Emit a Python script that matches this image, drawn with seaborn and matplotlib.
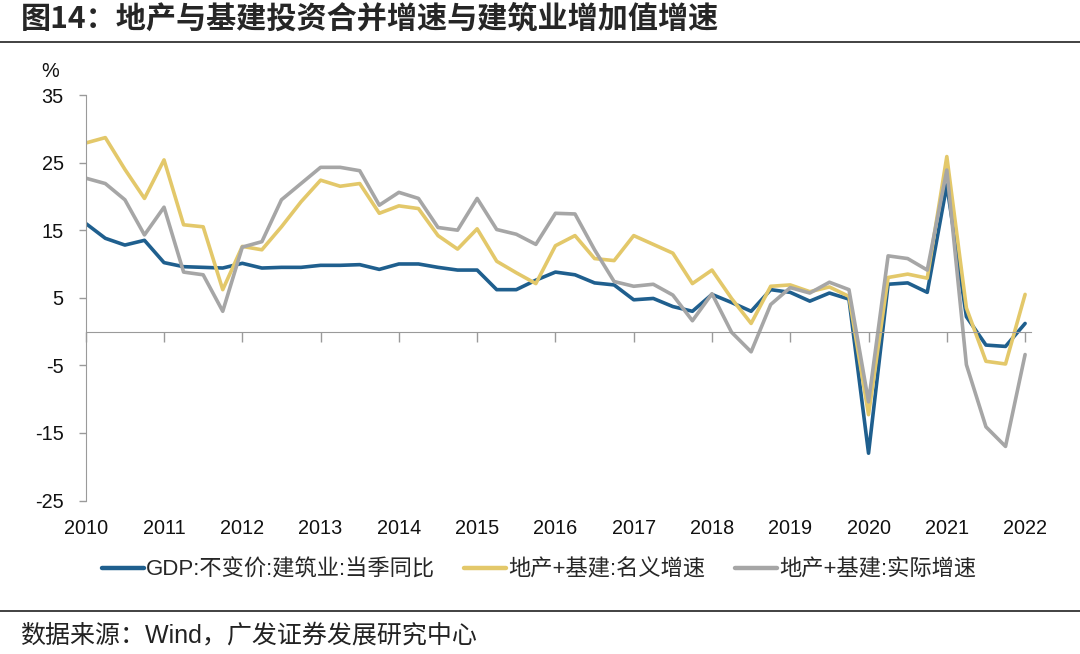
import numpy as np
import matplotlib

matplotlib.use('Agg')
import matplotlib.pyplot as plt
from matplotlib.lines import Line2D
import pandas as pd
import seaborn as sns

# quarterly data, 2010Q1 .. 2022Q1
quarters = [f'{y}Q{q}' for y in range(2010, 2023) for q in range(1, 5)][:49]

gdp_construction = [16.0, 13.8, 12.8, 13.5, 10.2, 9.6, 9.5, 9.4, 10.1, 9.4,
                    9.5, 9.5, 9.8, 9.8, 9.9, 9.2, 10.0, 10.0, 9.5, 9.1,
                    9.1, 6.2, 6.2, 7.6, 8.8, 8.4, 7.2, 6.9, 4.7, 4.9,
                    3.7, 3.0, 5.5, 4.3, 3.0, 6.2, 5.8, 4.5, 5.7, 4.8,
                    -18.0, 7.0, 7.2, 5.8, 21.7, 2.2, -2.0, -2.2, 1.2]
nominal = [27.9, 28.7, 24.0, 19.7, 25.4, 15.8, 15.5, 6.2, 12.6, 12.1,
           15.5, 19.2, 22.4, 21.5, 21.9, 17.5, 18.6, 18.2, 14.2, 12.2,
           15.2, 10.4, 8.7, 7.1, 12.7, 14.2, 10.8, 10.5, 14.2, 12.9,
           11.6, 7.1, 9.1, 4.9, 1.2, 6.7, 6.9, 5.9, 6.6, 5.2,
           -12.3, 8.0, 8.5, 7.9, 25.9, 3.5, -4.4, -4.8, 5.5]
real = [22.7, 21.9, 19.5, 14.3, 18.4, 8.8, 8.4, 3.0, 12.5, 13.3,
        19.5, 21.9, 24.3, 24.3, 23.8, 18.7, 20.6, 19.7, 15.4, 15.0,
        19.7, 15.1, 14.4, 12.9, 17.5, 17.4, 12.1, 7.4, 6.7, 7.0,
        5.4, 1.6, 5.6, -0.1, -3.0, 4.0, 6.5, 5.7, 7.3, 6.2,
        -10.4, 11.2, 10.8, 9.1, 23.9, -4.9, -14.1, -17.0, -3.4]

series_names = ['GDP:不变价:建筑业:当季同比', '地产+基建:名义增速', '地产+基建:实际增速']
colors = ['#1f5f8e', '#e3c86a', '#a6a6a6']
year_labels = [str(y) for y in range(2010, 2023)]
y_ticks = [-25, -15, -5, 5, 15, 25, 35]

sns.set_style('ticks')
plt.rcParams['font.family'] = ['Liberation Sans', 'Noto Sans CJK SC', 'DejaVu Sans']
plt.rcParams['axes.unicode_minus'] = False

pos = np.arange(len(quarters))
df = pd.concat([
    pd.DataFrame({'pos': pos, 'quarter': quarters, 'value': vals, 'series': name})
    for name, vals in zip(series_names, [gdp_construction, nominal, real])
])

fig = plt.figure(figsize=(10.8, 6.54), dpi=100)
ax = fig.add_axes([0.0794, 0.2347, 0.8752, 0.62])

sns.lineplot(data=df, x='pos', y='value', hue='series', hue_order=series_names,
             palette=colors, linewidth=2.6, errorbar=None, legend=False, ax=ax)

ax.set_xlim(0, 48.3)
ax.set_ylim(-25, 35)
ax.set_xlabel('')
ax.set_ylabel('')

spine_c = '#9a9a9a'
for s in ['top', 'right']:
    ax.spines[s].set_visible(False)
ax.spines['left'].set_color(spine_c)
ax.spines['bottom'].set_color(spine_c)
ax.spines['bottom'].set_position(('data', 0))

year_pos = [i for i, q in enumerate(quarters) if q.endswith('Q1')]
ax.set_xticks(year_pos)
ax.set_xticklabels([])
ax.tick_params(axis='x', length=7, width=1, color=spine_c, direction='out')
ax.set_yticks(y_ticks)
ax.tick_params(axis='y', length=5, width=1, color=spine_c, pad=11, labelsize=14.3, labelcolor='#111')

secax = ax.secondary_xaxis(location=0)
secax.set_xticks(year_pos)
secax.set_xticklabels(year_labels)
secax.tick_params(length=0, pad=13, labelsize=14.3, labelcolor='#111')
secax.spines['bottom'].set_visible(False)

fig.text(0.046, 0.89, '%', ha='center', va='center', fontsize=14.3, color='#111')

fig.text(0.019, 0.972, '图14：地产与基建投资合并增速与建筑业增加值增速', fontsize=21.7,
         fontweight='bold', va='center', ha='left', family=['Noto Sans CJK SC'])
fig.add_artist(Line2D([0, 1], [1 - 42 / 654] * 2, transform=fig.transFigure, color='#333333', lw=1.3))
fig.add_artist(Line2D([0, 1], [1 - 611 / 654] * 2, transform=fig.transFigure, color='#333333', lw=1.3))
fig.text(0.019, 1 - 635 / 654, '数据来源：Wind，广发证券发展研究中心', fontsize=18,
         va='center', ha='left', color='#222')

handles = [Line2D([], [], color=c, lw=3.2) for c in colors]
fig.legend(handles, series_names, loc='center', bbox_to_anchor=(0.499, 1 - 570 / 654),
           ncol=3, frameon=False, fontsize=16, handlelength=1.9, handletextpad=0.1,
           columnspacing=1.3)

fig.savefig('out.png', dpi=100)
plt.close(fig)
